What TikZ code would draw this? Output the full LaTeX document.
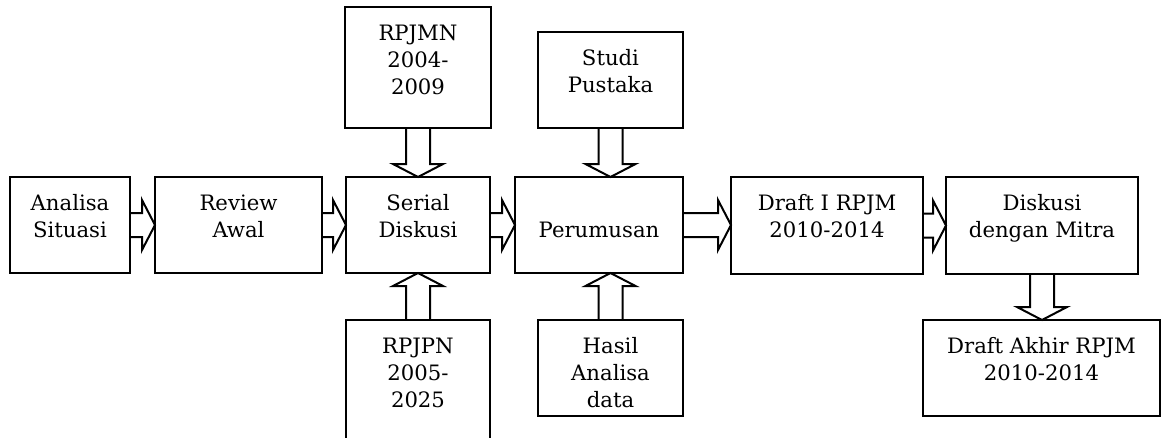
\documentclass[tikz,border=0pt]{standalone}
\usepackage{fontspec}
\setmainfont{DejaVu Serif}
\usetikzlibrary{calc}
\tikzset{
  box/.style={draw=black, line width=2pt, anchor=north west, inner sep=0pt, outer sep=0pt},
  txt/.style={anchor=north, align=center, inner sep=0pt, font=\fontsize{21.2}{27}\selectfont},
  barrow/.style={draw=black, line width=2pt, line join=miter},
}
\newcommand\mkbox[6]{%
  \node[box, minimum width={#4pt-#2pt}, minimum height={#5pt-#3pt}] (#1) at (#2,#3) {};
  \node[txt] (#1t) at ($(#1.north)+(0,14.1)$) {\strut #6};
}
\newcommand\harr[2]{%
  \draw[barrow] ($(#1.east)+(0,-12)$) -- ($(#2.west |- #1.east)+(-13,-12)$)
    -- ($(#2.west |- #1.east)+(-13,-25)$) -- (#2.west |- #1.east)
    -- ($(#2.west |- #1.east)+(-13,25)$) -- ($(#2.west |- #1.east)+(-13,12)$)
    -- ($(#1.east)+(0,12)$);
}
\newcommand\darr[2]{%
  \draw[barrow] ($(#1.south)+(-12,0)$) -- ($(#1.south |- #2.north)+(-12,-13)$)
    -- ($(#1.south |- #2.north)+(-25,-13)$) -- (#1.south |- #2.north)
    -- ($(#1.south |- #2.north)+(25,-13)$) -- ($(#1.south |- #2.north)+(12,-13)$)
    -- ($(#1.south)+(12,0)$);
}
\newcommand\uarr[2]{%
  \draw[barrow] ($(#1.north)+(-12,0)$) -- ($(#1.north |- #2.south)+(-12,13)$)
    -- ($(#1.north |- #2.south)+(-25,13)$) -- (#1.north |- #2.south)
    -- ($(#1.north |- #2.south)+(25,13)$) -- ($(#1.north |- #2.south)+(12,13)$)
    -- ($(#1.north)+(12,0)$);
}
\begin{document}
\begin{tikzpicture}[x=1pt, y=-1pt]
  \useasboundingbox (0,0) rectangle (1162,437);
  \clip (0,0) rectangle (1162,437);
  \mkbox{ana}{10}{177}{130}{273}{Analisa\\Situasi}
  \mkbox{rev}{155}{177}{322}{273}{Review\\Awal}
  \mkbox{ser}{346}{177}{490}{273}{Serial\\Diskusi}
  \mkbox{per}{515}{177}{683}{273}{\\Perumusan}
  \mkbox{dra}{731}{177}{923}{274}{Draft I RPJM\\2010-2014}
  \mkbox{dis}{946}{177}{1138}{274}{Diskusi\\dengan Mitra}
  \mkbox{akh}{923}{320}{1160}{416}{Draft Akhir RPJM\\2010-2014}
  \mkbox{rpm}{345}{7}{491}{128}{RPJMN\\2004-\\2009}
  \mkbox{stu}{538}{32}{683}{128}{Studi\\Pustaka}
  \mkbox{rpp}{346}{320}{490}{460}{RPJPN\\2005-\\2025}
  \mkbox{has}{538}{320}{683}{416}{Hasil\\Analisa\\data}
  \harr{ana}{rev}
  \harr{rev}{ser}
  \harr{ser}{per}
  \harr{per}{dra}
  \harr{dra}{dis}
  \darr{rpm}{ser}
  \darr{stu}{per}
  \darr{dis}{akh}
  \uarr{rpp}{ser}
  \uarr{has}{per}
\end{tikzpicture}
\end{document}
